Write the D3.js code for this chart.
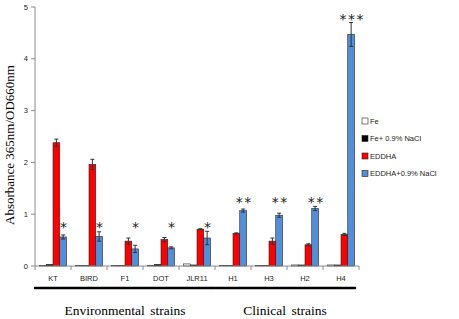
<!DOCTYPE html>
<html>
<head>
<meta charset="utf-8">
<script src="https://cdn.jsdelivr.net/npm/d3@7"></script>
<style>
  body { margin: 0; background: #fff; }
  svg { display: block; }
  .tick-label { font-family: "Liberation Sans", Arial, sans-serif; font-size: 7.5px; fill: #222; }
  .serif { font-family: "Liberation Serif", "Times New Roman", serif; }
</style>
</head>
<body>
<div id="chart"></div>
<script>
const categories = ['KT', 'BIRD', 'F1', 'DOT', 'JLR11', 'H1', 'H3', 'H2', 'H4'];
const seriesNames = ['Fe', 'Fe+ 0.9% NaCl', 'EDDHA', 'EDDHA+0.9% NaCl'];
const seriesColors = ['#ffffff', '#000000', '#ff0000', '#558ed5'];

const feValues       = [0.01, 0.01, 0.01, 0.01, 0.04, 0.01, 0.01, 0.02, 0.02];
const feNaclValues   = [0.03, 0.01, 0.01, 0.03, 0.02, 0.01, 0.01, 0.02, 0.02];
const eddhaValues    = [2.38, 1.96, 0.48, 0.51, 0.71, 0.63, 0.48, 0.41, 0.61];
const eddhaNaclValues = [0.56, 0.57, 0.33, 0.35, 0.54, 1.07, 0.98, 1.11, 4.47];

const feErr       = [0, 0, 0, 0, 0, 0, 0, 0, 0];
const feNaclErr   = [0, 0, 0, 0, 0, 0, 0, 0, 0];
const eddhaErr    = [0.07, 0.10, 0.06, 0.04, 0.01, 0.01, 0.06, 0.02, 0.02];
const eddhaNaclErr = [0.04, 0.09, 0.07, 0.02, 0.13, 0.03, 0.04, 0.04, 0.23];

const significance = ['*', '*', '*', '*', '*', '**', '**', '**', '***'];
const yTicks = [0, 1, 2, 3, 4, 5];
const groups = [
  {name: 'Environmental strains', from: 'KT', to: 'JLR11'},
  {name: 'Clinical strains', from: 'H1', to: 'H4'}
];

const allValues = [feValues, feNaclValues, eddhaValues, eddhaNaclValues];
const allErr = [feErr, feNaclErr, eddhaErr, eddhaNaclErr];

const width = 459, height = 319;
const margin = {top: 7, left: 35, right: 100, bottom: 53};

const svg = d3.select('#chart').append('svg')
  .attr('width', width)
  .attr('height', height);

const x = d3.scaleBand()
  .domain(categories)
  .range([margin.left, width - margin.right]);

const x1 = d3.scaleBand()
  .domain(seriesNames)
  .range([4.5, x.bandwidth() - 4.5]);

const y = d3.scaleLinear()
  .domain([0, 5])
  .range([height - margin.bottom, margin.top]);

// rows for bars
const rows = [];
categories.forEach((c, i) => {
  seriesNames.forEach((s, j) => {
    rows.push({cat: c, series: s, color: seriesColors[j], value: allValues[j][i], err: allErr[j][i]});
  });
});

// y axis
const yAxis = svg.append('g');
yAxis.append('line')
  .attr('x1', margin.left).attr('x2', margin.left)
  .attr('y1', y(0)).attr('y2', y(5))
  .attr('stroke', '#8c8c8c');
yAxis.selectAll('.ytick')
  .data(yTicks)
  .join('line')
  .attr('x1', margin.left - 4).attr('x2', margin.left)
  .attr('y1', d => y(d)).attr('y2', d => y(d))
  .attr('stroke', '#8c8c8c');
yAxis.selectAll('.tick-label')
  .data(yTicks)
  .join('text')
  .attr('class', 'tick-label')
  .attr('x', margin.left - 7)
  .attr('y', d => y(d))
  .attr('dy', '0.35em')
  .attr('text-anchor', 'end')
  .text(d => d);

// bars
svg.append('g').selectAll('rect')
  .data(rows)
  .join('rect')
  .attr('x', d => x(d.cat) + x1(d.series))
  .attr('y', d => y(d.value))
  .attr('width', x1.bandwidth())
  .attr('height', d => y(0) - y(d.value))
  .attr('fill', d => d.color)
  .attr('stroke', '#222')
  .attr('stroke-width', 0.6);

// error bars
const errRows = rows.filter(d => d.err > 0);
const eb = svg.append('g').attr('stroke', '#333').attr('stroke-width', 1);
eb.selectAll('.stem')
  .data(errRows)
  .join('line')
  .attr('x1', d => x(d.cat) + x1(d.series) + x1.bandwidth() / 2)
  .attr('x2', d => x(d.cat) + x1(d.series) + x1.bandwidth() / 2)
  .attr('y1', d => y(d.value - d.err))
  .attr('y2', d => y(d.value + d.err));
eb.selectAll('.capTop')
  .data(errRows)
  .join('line')
  .attr('x1', d => x(d.cat) + x1(d.series) + x1.bandwidth() / 2 - 2)
  .attr('x2', d => x(d.cat) + x1(d.series) + x1.bandwidth() / 2 + 2)
  .attr('y1', d => y(d.value + d.err))
  .attr('y2', d => y(d.value + d.err));
eb.selectAll('.capBot')
  .data(errRows)
  .join('line')
  .attr('x1', d => x(d.cat) + x1(d.series) + x1.bandwidth() / 2 - 2)
  .attr('x2', d => x(d.cat) + x1(d.series) + x1.bandwidth() / 2 + 2)
  .attr('y1', d => y(d.value - d.err))
  .attr('y2', d => y(d.value - d.err));

// x axis
const xAxis = svg.append('g');
xAxis.append('line')
  .attr('x1', margin.left).attr('x2', width - margin.right)
  .attr('y1', y(0)).attr('y2', y(0))
  .attr('stroke', '#8c8c8c');
xAxis.selectAll('.xtick')
  .data(categories.concat(['end']))
  .join('line')
  .attr('x1', (d, i) => margin.left + i * x.step())
  .attr('x2', (d, i) => margin.left + i * x.step())
  .attr('y1', y(0)).attr('y2', y(0) + 4)
  .attr('stroke', '#8c8c8c');
xAxis.selectAll('.tick-label')
  .data(categories)
  .join('text')
  .attr('class', 'tick-label')
  .attr('x', d => x(d) + x.bandwidth() / 2)
  .attr('y', y(0) + 15)
  .attr('text-anchor', 'middle')
  .text(d => d);

// significance stars above the EDDHA+NaCl bars
const blueIdx = 3;
const starTop = {};
categories.forEach((c, i) => {
  const s = significance[i];
  const top = allValues[blueIdx][i] + allErr[blueIdx][i];
  starTop[s] = Math.max(starTop[s] || 0, top);
});
svg.append('g').selectAll('text')
  .data(categories)
  .join('text')
  .attr('x', d => x(d) + x1(seriesNames[blueIdx]) + x1.bandwidth() / 2 + 1)
  .attr('y', (d, i) => y(starTop[significance[i]]) + 1)
  .attr('text-anchor', 'middle')
  .attr('font-family', '"DejaVu Sans", sans-serif')
  .attr('font-size', 14)
  .attr('letter-spacing', 1.5)
  .attr('fill', '#222')
  .text((d, i) => significance[i]);

// group brackets
groups.forEach(g => {
  const x0 = x(g.from) - (g.from === categories[0] ? 0 : 4);
  const xEnd = x(g.to) + x.bandwidth() - 4;
  svg.append('line')
    .attr('x1', x0).attr('x2', xEnd)
    .attr('y1', 288).attr('y2', 288)
    .attr('stroke', '#000')
    .attr('stroke-width', 2.5)
    .attr('stroke-linecap', 'round');
  svg.append('text')
    .attr('class', 'serif')
    .attr('x', (x0 + xEnd) / 2 + 2)
    .attr('y', 315)
    .attr('text-anchor', 'middle')
    .attr('font-size', 13.5)
    .attr('word-spacing', 2)
    .text(g.name);
});

// y title
svg.append('text')
  .attr('class', 'serif')
  .attr('transform', `translate(14,145) rotate(-90)`)
  .attr('text-anchor', 'middle')
  .attr('font-size', 13)
  .text('Absorbance 365nm/OD660nm');

// legend
const legend = svg.append('g').attr('transform', 'translate(362,121)');
const li = legend.selectAll('g')
  .data(seriesNames)
  .join('g')
  .attr('transform', (d, i) => `translate(0,${i * 17.5})`);
li.append('rect')
  .attr('x', 0).attr('y', -3)
  .attr('width', 6).attr('height', 6)
  .attr('fill', (d, i) => seriesColors[i])
  .attr('stroke', '#222')
  .attr('stroke-width', 0.6);
li.append('text')
  .attr('class', 'tick-label')
  .attr('x', 8)
  .attr('dy', '0.35em')
  .text(d => d);
</script>
</body>
</html>
